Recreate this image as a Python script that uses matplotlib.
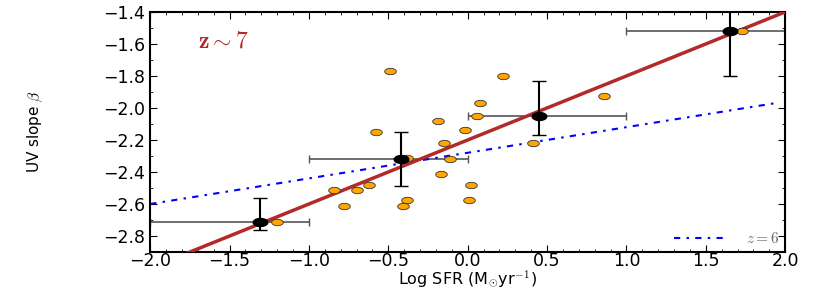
import numpy as np
import matplotlib
matplotlib.use("Agg")
import matplotlib.pyplot as plt
from matplotlib.ticker import MultipleLocator
from matplotlib.path import Path

plt.rcParams['mathtext.fontset'] = 'cm'

# individual galaxies at z~7
sfr = [-0.49, 0.22, 0.08, 0.06, -0.19, -0.58, -0.02, -0.15, -0.38, -0.11, -0.17, 0.02,
       -0.62, -0.70, -0.84, -0.78, -0.38, -0.41, 0.01, 0.41, 0.86, 1.73, -1.20]
beta = [-1.77, -1.80, -1.97, -2.05, -2.08, -2.15, -2.14, -2.22, -2.31, -2.32, -2.41, -2.48,
        -2.48, -2.51, -2.51, -2.61, -2.575, -2.61, -2.575, -2.22, -1.925, -1.52, -2.71]

# binned means
bin_sfr = [-1.31, -0.42, 0.45, 1.65]
bin_beta = [-2.71, -2.32, -2.05, -1.52]
bin_xlo = [-2.0, -1.0, 0.0, 1.0]
bin_xhi = [-1.0, 0.0, 1.0, 2.0]
bin_yup = [0.15, 0.17, 0.22, 0.15]
bin_ydn = [0.05, 0.17, 0.12, 0.28]

# fits
fit7_slope, fit7_icpt = 0.40, -2.20
fit6_slope, fit6_icpt = 0.16, -2.28

# wide ellipse marker (the original figure looks stretched sideways)
t = np.linspace(0, 2*np.pi, 40)
ell = Path(np.column_stack([np.cos(t), 0.55*np.sin(t)]))

fig = plt.figure(figsize=(8.3, 2.91), dpi=100)
ax = fig.add_axes([0.181, 0.134, 0.765, 0.825])

xx = np.array([-2.0, 2.0])
ax.plot(xx, fit7_icpt + fit7_slope*xx, color='#b22a2a', lw=2.5, zorder=3)
xx6 = np.array([-2.0, 1.95])
ax.plot(xx6, fit6_icpt + fit6_slope*xx6, color='blue', lw=1.5,
        dashes=[3, 3, 1.2, 3], label=r'$z=6$', zorder=2)

bx = np.array(bin_sfr)
xerr = [bx - np.array(bin_xlo), np.array(bin_xhi) - bx]
ax.errorbar(bin_sfr, bin_beta, xerr=xerr, fmt='none', ecolor='#555555', elinewidth=1.2,
            capsize=3, zorder=1)
ax.scatter(sfr, beta, s=70, marker=ell, c='orange', edgecolors='#333333', linewidths=0.6,
           zorder=4)
ax.errorbar(bin_sfr, bin_beta, yerr=[bin_ydn, bin_yup], fmt='none', ecolor='black',
            elinewidth=1.5, capsize=5, zorder=5)
ax.scatter(bin_sfr, bin_beta, s=110, marker=ell, c='black', zorder=6)

ax.set_xlim(-2.0, 2.0)
ax.set_ylim(-2.9, -1.4)
ax.xaxis.set_major_locator(MultipleLocator(0.5))
ax.xaxis.set_minor_locator(MultipleLocator(0.1))
ax.yaxis.set_major_locator(MultipleLocator(0.2))
ax.yaxis.set_minor_locator(MultipleLocator(0.1))
ax.tick_params(which='both', direction='in', top=True, right=True, labelsize=12.5)
ax.tick_params(which='major', length=5)
ax.tick_params(which='minor', length=2.5)
ax.tick_params(axis='x', pad=0)
for s in ax.spines.values():
    s.set_linewidth(1.5)

ax.set_xlabel(r'Log SFR (M$_{\odot}$yr$^{-1}$)', fontsize=11.5, labelpad=-1)
ax.set_ylabel(r'UV slope $\beta$', fontsize=11)
ax.yaxis.set_label_coords(-0.165, 0.5)

ax.text(0.075, 0.88, r'$\mathbf{z \sim 7}$', transform=ax.transAxes, color='#b22a2a',
        fontsize=17, va='center')

leg = ax.legend(loc='lower right', frameon=False, fontsize=11, handlelength=3.5,
                borderaxespad=0.2, borderpad=0.2, handletextpad=1.2)
for t in leg.get_texts():
    t.set_color('#666666')

fig.savefig('out.png', dpi=100)
